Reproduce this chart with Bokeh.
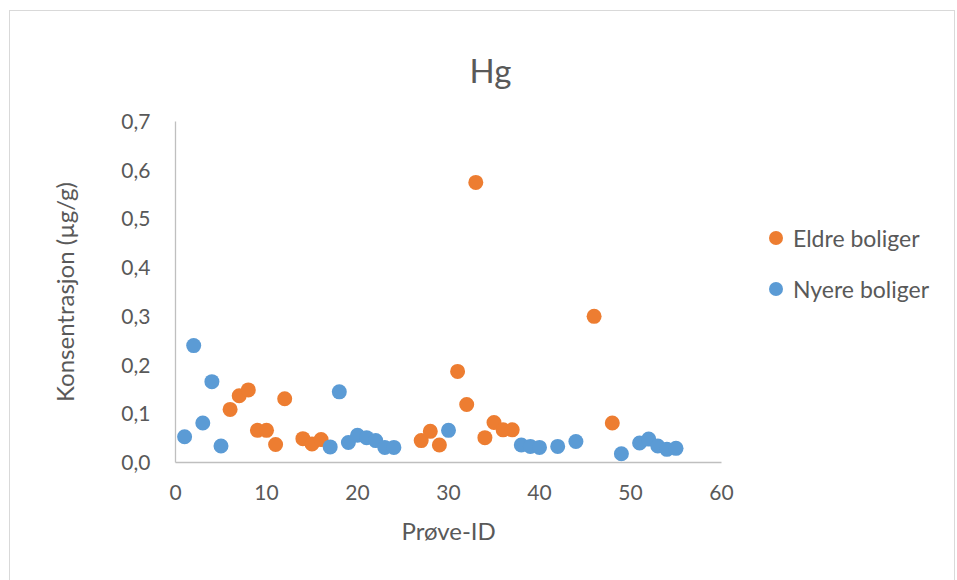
from bokeh.plotting import figure
from bokeh.models import (Range1d, FixedTicker, CustomJSTickFormatter, Legend, LegendItem,
                          ColumnDataSource, Title)
from bokeh.embed import file_html
from bokeh.resources import INLINE

title_text = "Hg"
x_label = "Prøve-ID"
y_label = "Konsentrasjon (µg/g)"

eldre_name = "Eldre boliger"
eldre_id = [6, 7, 8, 9, 10, 11, 12, 14, 15, 16, 27, 28, 29, 31, 32, 33, 34, 35, 36, 37, 46, 48]
eldre_val = [0.109, 0.137, 0.149, 0.066, 0.066, 0.037, 0.131, 0.049, 0.038, 0.047,
             0.045, 0.064, 0.036, 0.187, 0.119, 0.575, 0.051, 0.082, 0.067, 0.067, 0.300, 0.081]

nyere_name = "Nyere boliger"
nyere_id = [1, 2, 3, 4, 5, 17, 18, 19, 20, 21, 22, 23, 24, 30, 38, 39, 40, 42, 44, 49, 51, 52, 53, 54, 55]
nyere_val = [0.053, 0.240, 0.081, 0.166, 0.034, 0.032, 0.145, 0.041, 0.056, 0.051, 0.045,
             0.031, 0.031, 0.066, 0.036, 0.033, 0.031, 0.033, 0.043, 0.018, 0.040, 0.048,
             0.034, 0.027, 0.029]

x_ticks = [0, 10, 20, 30, 40, 50, 60]
y_ticks = [0.0, 0.1, 0.2, 0.3, 0.4, 0.5, 0.6, 0.7]
x_axis_span = (0, 60)

FONT = "Lato"
TXT = "#595959"
ORANGE = "#ED7D31"
BLUE = "#5B9BD5"

# frame extends to the right edge so the legend can live inside it; axis limited by bounds
FRAME_W = 781
AXIS_W = 546
x_end = x_axis_span[1] * FRAME_W / AXIS_W

p = figure(width=946, height=585, output_backend="svg", toolbar_location=None,
           x_range=Range1d(0, x_end), y_range=Range1d(0, 0.7),
           min_border_left=165, min_border_right=0, min_border_top=110, min_border_bottom=134)
p.styles = {"margin-left": "9px", "margin-top": "10px", "border": "1px solid #d9d9d9"}

p.xgrid.visible = False
p.ygrid.visible = False
p.outline_line_color = None
p.background_fill_color = "white"
p.border_fill_color = "white"

p.title.text = title_text
p.title.align = "left"
p.title.offset = 294
p.title.standoff = 60
p.title.vertical_align = "top"
p.title.text_font = FONT
p.title.text_font_size = "33px"
p.title.text_font_style = "normal"
p.title.text_color = TXT

src_e = ColumnDataSource(dict(x=eldre_id, y=eldre_val))
src_n = ColumnDataSource(dict(x=nyere_id, y=nyere_val))
r_e = p.scatter("x", "y", source=src_e, size=15, fill_color=ORANGE, line_color=None)
r_n = p.scatter("x", "y", source=src_n, size=15, fill_color=BLUE, line_color=None)

for ax in (p.xaxis[0], p.yaxis[0]):
    ax.axis_line_color = "#bfbfbf"
    ax.axis_line_width = 1.3
    ax.major_tick_line_color = None
    ax.minor_tick_line_color = None
    ax.major_label_text_font = FONT
    ax.major_label_text_font_size = "21px"
    ax.major_label_text_color = TXT
    ax.axis_label_text_font = FONT
    ax.axis_label_text_font_size = "24px"
    ax.axis_label_text_font_style = "normal"
    ax.axis_label_text_color = TXT

p.xaxis[0].bounds = x_axis_span
p.xaxis[0].ticker = FixedTicker(ticks=x_ticks)
p.yaxis[0].ticker = FixedTicker(ticks=y_ticks)
p.yaxis[0].formatter = CustomJSTickFormatter(code="return tick.toFixed(1).replace('.', ',');")
p.yaxis[0].axis_label = y_label
p.xaxis[0].major_label_standoff = 16
p.yaxis[0].major_label_standoff = 19
p.yaxis[0].axis_label_standoff = 39

xt = Title(text=x_label, align="left", offset=226, standoff=22,
           text_font=FONT, text_font_size="24px", text_font_style="normal", text_color=TXT)
p.add_layout(xt, "below")

legend = Legend(items=[LegendItem(label=eldre_name, renderers=[r_e]),
                       LegendItem(label=nyere_name, renderers=[r_n])],
                location=(583, 156), orientation="vertical",
                glyph_width=35, glyph_height=35, label_height=35, spacing=16,
                label_standoff=-2, padding=0, margin=0,
                border_line_color=None, background_fill_alpha=0,
                label_text_font=FONT, label_text_font_size="23px", label_text_color=TXT)
p.add_layout(legend, "center")

open("out.html", "w").write(file_html(p, INLINE))
